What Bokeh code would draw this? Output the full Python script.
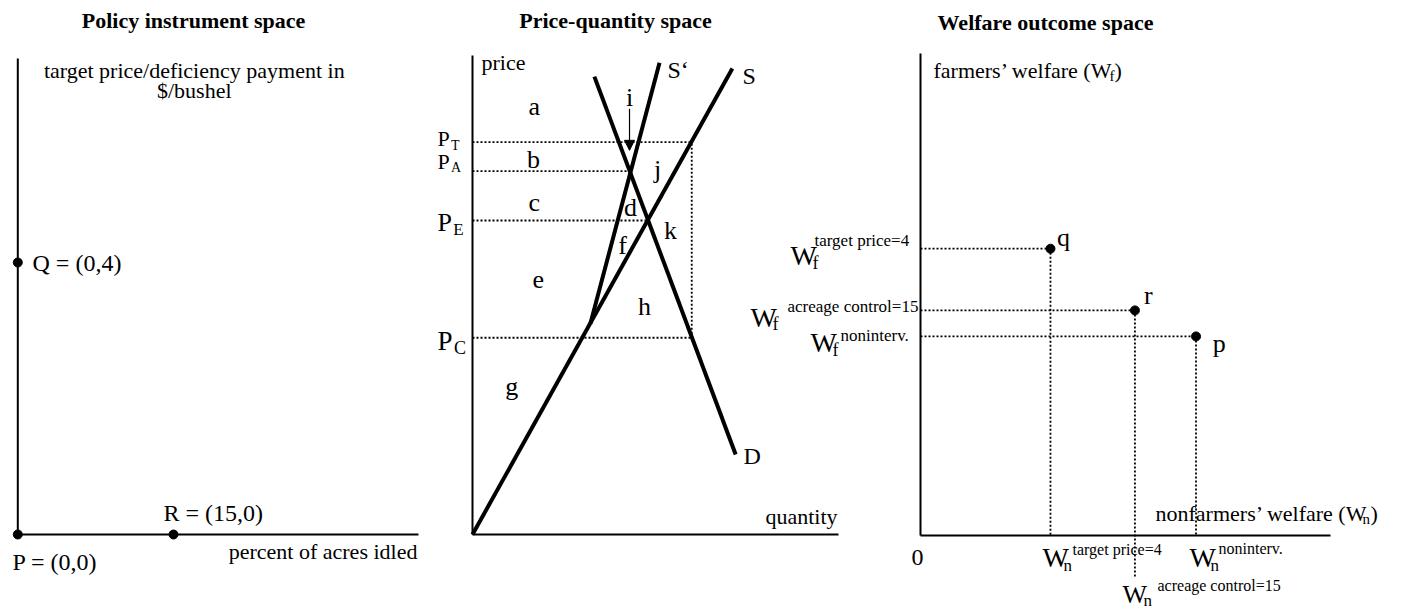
from bokeh.plotting import figure
from bokeh.models import Range1d, Arrow, NormalHead
from bokeh.core.properties import value
from bokeh.embed import file_html
from bokeh.resources import INLINE

# ---------------- data ----------------
# Panel 1: policy instrument space (x: percent of acres idled, y: target price $/bushel)
policy_names = ["P = (0,0)", "Q = (0,4)", "R = (15,0)"]
policy_acres = [0, 0, 15]
policy_price = [0, 4, 0]
policy_axis_max = [38.6, 7.0]

# Panel 2: price-quantity space
supply_q = [0.0, 7.10]
supply_p = [0.0, 9.73]
supply_acre_q = [3.22, 5.11]
supply_acre_p = [4.40, 9.85]
demand_q = [3.33, 7.19]
demand_p = [9.56, 1.67]
price_subs = ["T", "A", "E", "C"]
price_levels = [8.19, 7.585, 6.555, 4.107]
price_q_end = [5.99, 4.32, 4.795, 6.0]
target_q = 5.99
pq_axis_max = [10, 10]
region_letters = ["a", "b", "c", "d", "e", "f", "g", "h", "i", "j", "k"]
region_q = [1.69, 1.67, 1.69, 4.32, 1.80, 4.10, 1.07, 4.70, 4.29, 5.06, 5.41]
region_p = [8.94, 7.83, 6.93, 6.83, 5.32, 6.03, 3.09, 4.76, 9.12, 7.62, 6.35]

# Panel 3: welfare outcome space
welfare_names = ["q", "r", "p"]
welfare_wn = [3.17, 5.23, 6.72]
welfare_wf = [5.95, 4.67, 4.13]
welfare_vline_bottom = [0, -0.87, 0]
welfare_sup = ["target price=4", "acreage control=15", "noninterv."]
welfare_axis_max = [10, 10]

# ---------------- figure ----------------
W, H = 1412, 612
OFF = 0
p = figure(width=W, height=H, x_range=Range1d(0, 1), y_range=Range1d(0, 1),
           toolbar_location=None, output_backend="svg", min_border=0,
           x_axis_type=None, y_axis_type=None)
p.grid.visible = False
p.outline_line_color = None


def rng(x0, sx, y0, sy):
    # x0/y0: page pixel of data origin, sx/sy: pixels per data unit
    return (Range1d((OFF - x0) / sx, (OFF + W - x0) / sx),
            Range1d((y0 - (OFF + H)) / sy, (y0 - OFF) / sy))


rL = rng(17.3, 10.38, 534, 68.0)
rM = rng(472, 36.6, 534, 47.9)
rR = rng(920, 41.0, 535, 48.2)
p.extra_x_ranges = {"L": rL[0], "M": rM[0], "R": rR[0]}
p.extra_y_ranges = {"L": rL[1], "M": rM[1], "R": rR[1]}

FONT = value("Liberation Serif")


def txt(panel, x, y, s, size, align="left", style="normal", xo=0, yo=0):
    p.text(x=[x], y=[y], text=[s], x_range_name=panel, y_range_name=panel,
           text_font=FONT, text_font_size=f"{size}px", text_align=align,
           text_baseline="middle", text_font_style=style, x_offset=xo,
           y_offset=yo, text_color="black")


def axes(panel, xmax, ymax, width=2):
    p.segment(x0=[0, 0], y0=[0, 0], x1=[xmax, 0], y1=[0, ymax],
              x_range_name=panel, y_range_name=panel,
              line_color="black", line_width=width)


DOT = dict(line_color="black", line_width=1.8, line_dash="2 2")

# ---------- Panel 1 ----------
axes("L", policy_axis_max[0], policy_axis_max[1])
p.scatter(x=policy_acres, y=policy_price, x_range_name="L", y_range_name="L",
          size=9, color="black")
txt("L", 16.93, 7.56, "Policy instrument space", 22, "center", "bold")
txt("L", 17.0, 6.82, "target price/deficiency payment in", 22, "center")
txt("L", 17.0, 6.53, "$/bushel", 22, "center")
txt("L", 1.42, 3.99, policy_names[1], 24)
txt("L", 14.04, 0.31, policy_names[2], 24)
txt("L", -0.51, -0.41, policy_names[0], 24)
txt("L", 38.5, -0.25, "percent of acres idled", 22, "right")

# ---------- Panel 2 ----------
axes("M", pq_axis_max[0], pq_axis_max[1])
p.segment(x0=[0] * 4, y0=price_levels, x1=price_q_end, y1=price_levels,
          x_range_name="M", y_range_name="M", **DOT)
p.segment(x0=[target_q], y0=[price_levels[3]], x1=[target_q], y1=[price_levels[0]],
          x_range_name="M", y_range_name="M", **DOT)
for xs, ys in [(supply_q, supply_p), (supply_acre_q, supply_acre_p), (demand_q, demand_p)]:
    p.line(x=xs, y=ys, x_range_name="M", y_range_name="M",
           line_color="black", line_width=4)
p.add_layout(Arrow(end=NormalHead(size=10, fill_color="black", line_color="black"),
                   x_start=4.29, y_start=8.89, x_end=4.29, y_end=8.02,
                   line_color="black", line_width=1.2,
                   x_range_name="M", y_range_name="M"))
txt("M", 3.907, 10.73, "Price-quantity space", 22, "center", "bold")
txt("M", 0.246, 9.85, "price", 22)
txt("M", 9.973, 0.376, "quantity", 22, "right")
txt("M", 7.377, 9.58, "S", 24)
txt("M", 5.328, 9.69, "S‘", 24)
txt("M", 7.404, 1.63, "D", 24)
for s, q_, p_ in zip(region_letters, region_q, region_p):
    txt("M", q_, p_, s, 26, "center")
# price labels P_T, P_A, P_E, P_C
p_label_y = [8.257, 7.79, 6.514, 4.05]
p_label_size = [22, 22, 26, 27]
p_sub_size = [14, 14, 17, 18]
for sub, ly, fs, ss in zip(price_subs, p_label_y, p_label_size, p_sub_size):
    txt("M", -0.956, ly, "P", fs)
    txt("M", -0.956, ly, sub, ss, xo=fs * 0.61, yo=fs * 0.28)

# ---------- Panel 3 ----------
axes("R", welfare_axis_max[0], welfare_axis_max[1])
p.segment(x0=[0] * 3, y0=welfare_wf, x1=welfare_wn, y1=welfare_wf,
          x_range_name="R", y_range_name="R", **DOT)
p.segment(x0=welfare_wn, y0=welfare_wf, x1=welfare_wn, y1=welfare_vline_bottom,
          x_range_name="R", y_range_name="R", **DOT)
p.scatter(x=welfare_wn, y=welfare_wf, x_range_name="R", y_range_name="R",
          size=9, color="black")
txt("R", 3.049, 10.643, "Welfare outcome space", 22, "center", "bold")
txt("R", 0.317, 9.647, "farmers’ welfare (W", 22)
txt("R", 0.317, 9.647, "f", 15, xo=176, yo=5)
txt("R", 0.317, 9.647, ")", 22, xo=181)
txt("R", 5.732, 0.456, "nonfarmers’ welfare (W", 22)
txt("R", 5.732, 0.456, "n", 15, xo=207, yo=5)
txt("R", 5.732, 0.456, ")", 22, xo=215)
txt("R", -0.073, -0.456, "0", 24, "center")
# point labels
pt_lab_x = [3.33, 5.45, 7.13]
pt_lab_y = [6.18, 4.98, 3.99]
for s, x_, y_ in zip(welfare_names, pt_lab_x, pt_lab_y):
    txt("R", x_, y_, s, 26)
# W_n labels below axis
wn_lab_x = [2.976, 4.927, 6.561]
wn_lab_y = [-0.456, -1.22, -0.456]
wn_w_size = [28, 26, 28]
wn_sub_dy = [8, 6, 8]
wn_sup_dx = [30, 35, 29]
wn_sup_dy = [-8, -9, -9]
for s, x_, y_, ws, sdy, dx, dy in zip(welfare_sup, wn_lab_x, wn_lab_y, wn_w_size,
                                       wn_sub_dy, wn_sup_dx, wn_sup_dy):
    txt("R", x_, y_, "W", ws)
    txt("R", x_, y_, "n", 17, xo=21, yo=sdy)
    txt("R", x_, y_, s, 16, xo=dx, yo=dy)
# W_f labels left of axis
wf_lab_x = [-3.171, -4.146, -2.683]
wf_lab_y = [5.809, 4.523, 4.004]
wf_sup_dx = [24, 37, 30]
wf_sup_dy = [-15, -11, -7]
for s, x_, y_, dx, dy in zip(welfare_sup, wf_lab_x, wf_lab_y, wf_sup_dx, wf_sup_dy):
    txt("R", x_, y_, "W", 28)
    txt("R", x_, y_, "f", 18, xo=22, yo=7)
    txt("R", x_, y_, s, 17, xo=dx, yo=dy)

open("out.html", "w").write(file_html(p, INLINE))
